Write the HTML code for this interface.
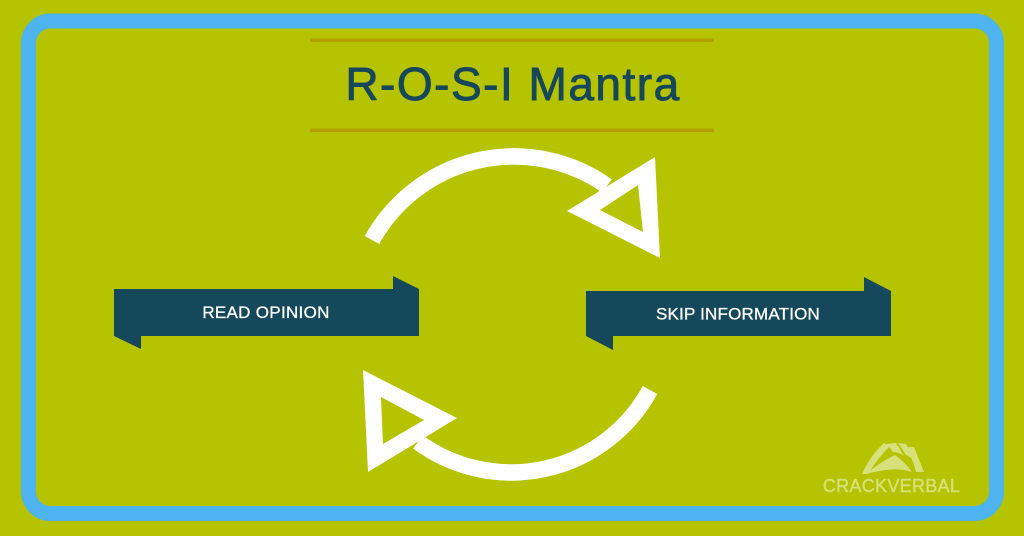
<!DOCTYPE html>
<html>
<head>
<meta charset="utf-8">
<style>
  html,body{margin:0;padding:0;background:#b5c300;}
  body{width:1024px;height:536px;overflow:hidden;}
  svg{display:block;}
</style>
</head>
<body>
<svg width="1024" height="536" viewBox="0 0 1024 536" xmlns="http://www.w3.org/2000/svg">
  <rect x="0" y="0" width="1024" height="536" fill="#b5c300"/>
  <!-- blue frame -->
  <rect x="28.5" y="21" width="968" height="492.5" rx="22" ry="22" fill="none" stroke="#4db4f0" stroke-width="15"/>

  <!-- gold lines -->
  <rect x="310" y="38.5" width="404" height="3.5" fill="#b59f00"/>
  <rect x="310" y="128.5" width="404" height="3.5" fill="#b59f00"/>

  <!-- title -->
  <text x="513" y="100" text-anchor="middle" font-family="'Liberation Sans', sans-serif" font-size="46" letter-spacing="1.5" fill="#17475a" stroke="#17475a" stroke-width="0.9">R-O-S-I Mantra</text>

  <!-- top arc -->
  <path d="M372,240 A162,162 0 0 1 607,186" fill="none" stroke="#ffffff" stroke-width="16.5"/>
  <path fill-rule="evenodd" fill="#ffffff" d="M567,211 L655,157 L660,258 Z M600,210 L638,185 L643,232 Z"/>

  <!-- bottom arc -->
  <path d="M650,390 A158,158 0 0 1 418,442" fill="none" stroke="#ffffff" stroke-width="16.5"/>
  <path fill-rule="evenodd" fill="#ffffff" d="M363,370 L457,418 L368,472 Z M381,397 L424,420 L383,444 Z"/>

  <!-- left banner -->
  <polygon points="393,276 419,289 393,289" fill="#15485a"/>
  <polygon points="114,336 141,349 141,336" fill="#15485a"/>
  <rect x="114" y="289" width="305" height="47" fill="#15485a"/>
  <text x="266" y="318" text-anchor="middle" font-family="'Liberation Sans', sans-serif" font-size="17" letter-spacing="0.3" fill="#ffffff" stroke="#ffffff" stroke-width="0.3">READ OPINION</text>

  <!-- right banner -->
  <polygon points="864,277 891,291 864,291" fill="#15485a"/>
  <polygon points="586,336 613,350 613,336" fill="#15485a"/>
  <rect x="586" y="291" width="305" height="45" fill="#15485a"/>
  <text x="738" y="319.5" text-anchor="middle" font-family="'Liberation Sans', sans-serif" font-size="17" letter-spacing="0.2" fill="#ffffff" stroke="#ffffff" stroke-width="0.3">SKIP INFORMATION</text>

  <!-- logo -->
  <g fill="#d8e07c">
    <path d="M862,474 Q870,456 884,443 L890,446 Q878,458 868,474 Z"/>
    <path d="M866,474 Q880,462 895,455 Q905,462 912,472 Q895,466 866,474 Z"/>
    <path d="M887,444 L896,443 L904,456 Q898,452 893,452 Z"/>
    <path d="M898,443 L906,444 L916,462 Q911,457 906,455 Z"/>
    <path d="M908,447 L914,447 L924,472 L916,472 Q914,464 912,460 Z"/>
  </g>
  <text x="891.5" y="492" text-anchor="middle" font-family="'Liberation Sans', sans-serif" font-size="18" letter-spacing="0.3" fill="#d8e07c" stroke="#d8e07c" stroke-width="0.4">CRACKVERBAL</text>
</svg>
</body>
</html>
